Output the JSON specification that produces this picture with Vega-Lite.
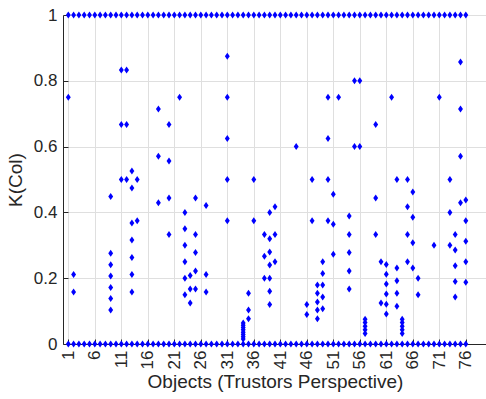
{
 "$schema": "https://vega.github.io/schema/vega-lite/v6.json",
 "width": 424, "height": 329,
 "autosize": {"type": "none"},
 "padding": {"left": 63, "top": 15, "right": 0, "bottom": 55},
 "background": "white",
 "config": {"view": {"stroke": null}, "font": "Liberation Sans"},
 "data": {"values": [
{"object":1,"k":0},{"object":2,"k":0},{"object":3,"k":0},{"object":4,"k":0},{"object":5,"k":0},{"object":6,"k":0},{"object":7,"k":0},{"object":8,"k":0},{"object":9,"k":0},{"object":10,"k":0},
{"object":11,"k":0},{"object":12,"k":0},{"object":13,"k":0},{"object":14,"k":0},{"object":15,"k":0},{"object":16,"k":0},{"object":17,"k":0},{"object":18,"k":0},{"object":19,"k":0},{"object":20,"k":0},
{"object":21,"k":0},{"object":22,"k":0},{"object":23,"k":0},{"object":24,"k":0},{"object":25,"k":0},{"object":26,"k":0},{"object":27,"k":0},{"object":28,"k":0},{"object":29,"k":0},{"object":30,"k":0},
{"object":31,"k":0},{"object":32,"k":0},{"object":33,"k":0},{"object":34,"k":0},{"object":35,"k":0},{"object":36,"k":0},{"object":37,"k":0},{"object":38,"k":0},{"object":39,"k":0},{"object":40,"k":0},
{"object":41,"k":0},{"object":42,"k":0},{"object":43,"k":0},{"object":44,"k":0},{"object":45,"k":0},{"object":46,"k":0},{"object":47,"k":0},{"object":48,"k":0},{"object":49,"k":0},{"object":50,"k":0},
{"object":51,"k":0},{"object":52,"k":0},{"object":53,"k":0},{"object":54,"k":0},{"object":55,"k":0},{"object":56,"k":0},{"object":57,"k":0},{"object":58,"k":0},{"object":59,"k":0},{"object":60,"k":0},
{"object":61,"k":0},{"object":62,"k":0},{"object":63,"k":0},{"object":64,"k":0},{"object":65,"k":0},{"object":66,"k":0},{"object":67,"k":0},{"object":68,"k":0},{"object":69,"k":0},{"object":70,"k":0},
{"object":71,"k":0},{"object":72,"k":0},{"object":73,"k":0},{"object":74,"k":0},{"object":75,"k":0},{"object":76,"k":0},
{"object":1,"k":1},{"object":2,"k":1},{"object":3,"k":1},{"object":4,"k":1},{"object":5,"k":1},{"object":6,"k":1},{"object":7,"k":1},{"object":8,"k":1},{"object":9,"k":1},{"object":10,"k":1},
{"object":11,"k":1},{"object":12,"k":1},{"object":13,"k":1},{"object":14,"k":1},{"object":15,"k":1},{"object":16,"k":1},{"object":17,"k":1},{"object":18,"k":1},{"object":19,"k":1},{"object":20,"k":1},
{"object":21,"k":1},{"object":22,"k":1},{"object":23,"k":1},{"object":24,"k":1},{"object":25,"k":1},{"object":26,"k":1},{"object":27,"k":1},{"object":28,"k":1},{"object":29,"k":1},{"object":30,"k":1},
{"object":31,"k":1},{"object":32,"k":1},{"object":33,"k":1},{"object":34,"k":1},{"object":35,"k":1},{"object":36,"k":1},{"object":37,"k":1},{"object":38,"k":1},{"object":39,"k":1},{"object":40,"k":1},
{"object":41,"k":1},{"object":42,"k":1},{"object":43,"k":1},{"object":44,"k":1},{"object":45,"k":1},{"object":46,"k":1},{"object":47,"k":1},{"object":48,"k":1},{"object":49,"k":1},{"object":50,"k":1},
{"object":51,"k":1},{"object":52,"k":1},{"object":53,"k":1},{"object":54,"k":1},{"object":55,"k":1},{"object":56,"k":1},{"object":57,"k":1},{"object":58,"k":1},{"object":59,"k":1},{"object":60,"k":1},
{"object":61,"k":1},{"object":62,"k":1},{"object":63,"k":1},{"object":64,"k":1},{"object":65,"k":1},{"object":66,"k":1},{"object":67,"k":1},{"object":68,"k":1},{"object":69,"k":1},{"object":70,"k":1},
{"object":71,"k":1},{"object":72,"k":1},{"object":73,"k":1},{"object":74,"k":1},{"object":75,"k":1},{"object":76,"k":1},
{"object":1,"k":0.75},
{"object":2,"k":0.211},{"object":2,"k":0.158},
{"object":9,"k":0.448},{"object":9,"k":0.276},{"object":9,"k":0.241},{"object":9,"k":0.207},{"object":9,"k":0.172},{"object":9,"k":0.138},{"object":9,"k":0.103},
{"object":11,"k":0.833},{"object":11,"k":0.667},{"object":11,"k":0.5},
{"object":12,"k":0.833},{"object":12,"k":0.667},{"object":12,"k":0.5},
{"object":13,"k":0.526},{"object":13,"k":0.474},{"object":13,"k":0.368},{"object":13,"k":0.316},{"object":13,"k":0.263},{"object":13,"k":0.211},{"object":13,"k":0.158},
{"object":14,"k":0.5},{"object":14,"k":0.375},
{"object":18,"k":0.714},{"object":18,"k":0.571},{"object":18,"k":0.429},
{"object":20,"k":0.667},{"object":20,"k":0.556},{"object":20,"k":0.444},{"object":20,"k":0.333},
{"object":22,"k":0.75},
{"object":23,"k":0.4},{"object":23,"k":0.35},{"object":23,"k":0.3},{"object":23,"k":0.25},{"object":23,"k":0.2},{"object":23,"k":0.15},
{"object":24,"k":0.208},{"object":24,"k":0.167},{"object":24,"k":0.125},
{"object":25,"k":0.444},{"object":25,"k":0.333},{"object":25,"k":0.278},{"object":25,"k":0.222},{"object":25,"k":0.167},
{"object":27,"k":0.421},{"object":27,"k":0.211},{"object":27,"k":0.158},
{"object":31,"k":0.875},{"object":31,"k":0.75},{"object":31,"k":0.625},{"object":31,"k":0.5},{"object":31,"k":0.375},
{"object":34,"k":0.015},{"object":34,"k":0.022},{"object":34,"k":0.029},{"object":34,"k":0.036},{"object":34,"k":0.043},{"object":34,"k":0.05},{"object":34,"k":0.057},{"object":34,"k":0.064},
{"object":35,"k":0.154},{"object":35,"k":0.103},{"object":35,"k":0.077},
{"object":36,"k":0.5},{"object":36,"k":0.375},
{"object":38,"k":0.333},{"object":38,"k":0.267},{"object":38,"k":0.2},
{"object":39,"k":0.4},{"object":39,"k":0.32},{"object":39,"k":0.28},{"object":39,"k":0.24},{"object":39,"k":0.2},{"object":39,"k":0.16},{"object":39,"k":0.12},
{"object":40,"k":0.417},{"object":40,"k":0.333},{"object":40,"k":0.25},
{"object":44,"k":0.6},
{"object":46,"k":0.12},{"object":46,"k":0.09},
{"object":47,"k":0.5},{"object":47,"k":0.375},
{"object":48,"k":0.179},{"object":48,"k":0.154},{"object":48,"k":0.128},{"object":48,"k":0.103},{"object":48,"k":0.077},
{"object":49,"k":0.25},{"object":49,"k":0.214},{"object":49,"k":0.179},{"object":49,"k":0.143},{"object":49,"k":0.107},
{"object":50,"k":0.75},{"object":50,"k":0.625},{"object":50,"k":0.5},{"object":50,"k":0.375},
{"object":51,"k":0.455},{"object":51,"k":0.364},{"object":51,"k":0.273},
{"object":52,"k":0.75},
{"object":54,"k":0.389},{"object":54,"k":0.333},{"object":54,"k":0.278},{"object":54,"k":0.222},{"object":54,"k":0.167},
{"object":55,"k":0.8},{"object":55,"k":0.6},
{"object":56,"k":0.8},{"object":56,"k":0.6},
{"object":57,"k":0.032},{"object":57,"k":0.043},{"object":57,"k":0.054},{"object":57,"k":0.065},{"object":57,"k":0.075},
{"object":59,"k":0.667},{"object":59,"k":0.444},{"object":59,"k":0.333},
{"object":60,"k":0.25},{"object":60,"k":0.125},
{"object":61,"k":0.242},{"object":61,"k":0.212},{"object":61,"k":0.182},{"object":61,"k":0.152},{"object":61,"k":0.121},{"object":61,"k":0.091},
{"object":62,"k":0.75},
{"object":63,"k":0.5},{"object":63,"k":0.231},{"object":63,"k":0.192},{"object":63,"k":0.154},{"object":63,"k":0.115},
{"object":64,"k":0.032},{"object":64,"k":0.043},{"object":64,"k":0.054},{"object":64,"k":0.065},{"object":64,"k":0.075},
{"object":65,"k":0.5},{"object":65,"k":0.417},{"object":65,"k":0.333},{"object":65,"k":0.25},
{"object":66,"k":0.462},{"object":66,"k":0.385},{"object":66,"k":0.308},{"object":66,"k":0.231},
{"object":67,"k":0.2},{"object":67,"k":0.15},
{"object":70,"k":0.3},
{"object":71,"k":0.75},
{"object":73,"k":0.5},{"object":73,"k":0.4},{"object":73,"k":0.3},
{"object":74,"k":0.333},{"object":74,"k":0.286},{"object":74,"k":0.238},{"object":74,"k":0.19},{"object":74,"k":0.143},
{"object":75,"k":0.857},{"object":75,"k":0.714},{"object":75,"k":0.571},{"object":75,"k":0.429},
{"object":76,"k":0.4375},{"object":76,"k":0.375},{"object":76,"k":0.3125},{"object":76,"k":0.25},{"object":76,"k":0.1875}
 ]},
 "mark": {"type": "point", "shape": "M0,-1L0.7,0L0,1L-0.7,0Z", "filled": true, "color": "#0000ff", "size": 49, "opacity": 1},
 "encoding": {
  "x": {"field": "object", "type": "quantitative",
   "scale": {"domain": [0, 80], "nice": false, "zero": false},
   "axis": {"values": [1,6,11,16,21,26,31,36,41,46,51,56,61,66,71,76],
    "title": "Objects (Trustors Perspective)", "labelAngle": -90, "labelFontSize": 17, "titleFontSize": 19,
    "titleFontWeight": "normal", "grid": true, "gridColor": "#dfdfdf", "domainColor": "#262626", "tickColor": "#262626",
    "labelColor": "#262626", "titleColor": "#262626", "tickSize": -5, "labelPadding": 11, "titlePadding": 4, "domainWidth": 1}},
  "y": {"field": "k", "type": "quantitative",
   "scale": {"domain": [0, 1], "nice": false},
   "axis": {"values": [0,0.2,0.4,0.6,0.8,1], "format": "~g",
    "title": "K(Col)", "labelFontSize": 17, "titleFontSize": 19,
    "titleFontWeight": "normal", "grid": true, "gridColor": "#dfdfdf", "domainColor": "#262626", "tickColor": "#262626",
    "labelColor": "#262626", "titleColor": "#262626", "tickSize": -5, "labelPadding": 11, "titlePadding": 8, "domainWidth": 1}}
 }
}
